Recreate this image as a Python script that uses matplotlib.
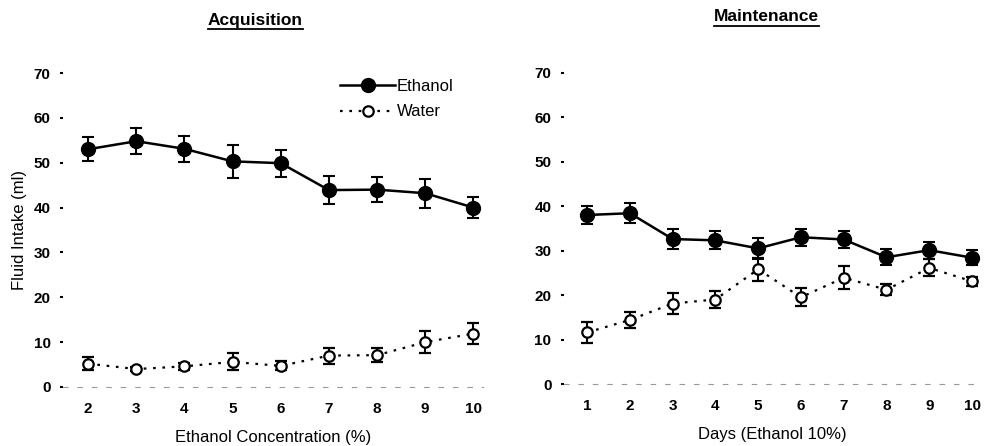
import matplotlib.pyplot as plt
import numpy as np
from matplotlib.lines import Line2D

plt.rcParams['font.family'] = ['Liberation Sans', 'DejaVu Sans']

# acquisition phase (ethanol concentration, %)
conc = [2, 3, 4, 5, 6, 7, 8, 9, 10]
acq_eth = [53.0, 54.8, 53.1, 50.3, 49.9, 43.9, 44.0, 43.2, 40.0]
acq_eth_err = [2.7, 2.9, 2.9, 3.6, 3.0, 3.2, 2.8, 3.2, 2.4]
acq_wat = [5.2, 4.0, 4.6, 5.6, 4.7, 7.0, 7.1, 10.0, 11.9]
acq_wat_err = [1.4, 0.5, 0.8, 1.9, 1.0, 1.8, 1.5, 2.5, 2.4]

# maintenance phase (days, ethanol 10%)
days = [1, 2, 3, 4, 5, 6, 7, 8, 9, 10]
mnt_eth = [38.0, 38.4, 32.6, 32.3, 30.5, 33.0, 32.5, 28.5, 30.1, 28.4]
mnt_eth_err = [2.0, 2.2, 2.2, 2.0, 2.3, 1.9, 1.9, 1.8, 1.9, 1.7]
mnt_wat = [11.6, 14.4, 18.1, 19.0, 25.8, 19.5, 23.9, 21.2, 26.1, 23.1]
mnt_wat_err = [2.4, 1.9, 2.3, 2.0, 2.6, 2.0, 2.6, 1.2, 1.9, 1.0]

yticks = [0, 10, 20, 30, 40, 50, 60, 70]

fig = plt.figure(figsize=(9.86, 4.46), dpi=100)
ax1 = fig.add_axes([0.0639, 0.1323, 0.426, 0.704])
ax2 = fig.add_axes([0.572, 0.139, 0.4225, 0.698])


def draw(ax, x, eth, eth_err, wat, wat_err, xmin):
    ax.errorbar(x, eth, yerr=eth_err, color='k', lw=1.8, marker='o', ms=10,
                mfc='k', mec='k', capsize=4, capthick=1.5, elinewidth=1.5,
                clip_on=False, zorder=3, label='Ethanol')
    ax.errorbar(x, wat, yerr=wat_err, color='k', lw=1.6, ls=(0, (1.2, 3)),
                marker='o', ms=7.5, mfc='white', mec='k', mew=1.6, capsize=4,
                capthick=1.5, elinewidth=1.5, clip_on=False, zorder=3,
                label='Water')
    ax.set_xlim(xmin, 10.2)
    ax.set_ylim(0, 70)
    ax.set_xticks(x)
    ax.set_yticks(yticks)
    for s in ['top', 'right', 'left']:
        ax.spines[s].set_visible(False)
    ax.spines['bottom'].set_color('0.6')
    ax.spines['bottom'].set_linestyle((0, (4, 9)))
    ax.tick_params(axis='y', length=2, width=1.5, pad=7, labelsize=11)
    ax.tick_params(axis='x', length=0, pad=11, labelsize=11)
    for lab in ax.get_xticklabels() + ax.get_yticklabels():
        lab.set_fontweight('bold')


draw(ax1, conc, acq_eth, acq_eth_err, acq_wat, acq_wat_err, 1.48)
draw(ax2, days, mnt_eth, mnt_eth_err, mnt_wat, mnt_wat_err, 0.46)

ax1.set_xlabel('Ethanol Concentration (%)', fontsize=12, labelpad=10)
ax2.set_xlabel('Days (Ethanol 10%)', fontsize=12, labelpad=10)
ax1.set_ylabel('Fluid Intake (ml)', fontsize=12, labelpad=5)

h = [Line2D([], [], color='k', lw=1.8, marker='o', ms=10),
     Line2D([], [], color='k', lw=1.6, ls=(0, (1.2, 3)), marker='o', ms=7.5,
            mfc='white', mew=1.6)]
ax1.legend(h, ['Ethanol', 'Water'], frameon=False, loc='upper left',
           bbox_to_anchor=(0.333, 0.85), bbox_transform=fig.transFigure,
           handlelength=3.3, handletextpad=0.1, labelspacing=0.65,
           fontsize=12, borderpad=0.2)

# bold underlined titles
t1 = fig.text(0.259, 0.955, 'Acquisition', ha='center', va='center',
              fontsize=12.5, fontweight='bold')
t2 = fig.text(0.777, 0.962, 'Maintenance', ha='center', va='center',
              fontsize=12.5, fontweight='bold')
fig.canvas.draw()
inv = fig.transFigure.inverted()
for t in [t1, t2]:
    bb = t.get_window_extent().transformed(inv)
    fig.add_artist(Line2D([bb.x0, bb.x1], [bb.y0 - 0.004, bb.y0 - 0.004],
                          color='k', lw=1.3, transform=fig.transFigure))

fig.savefig('out.png', dpi=100)
